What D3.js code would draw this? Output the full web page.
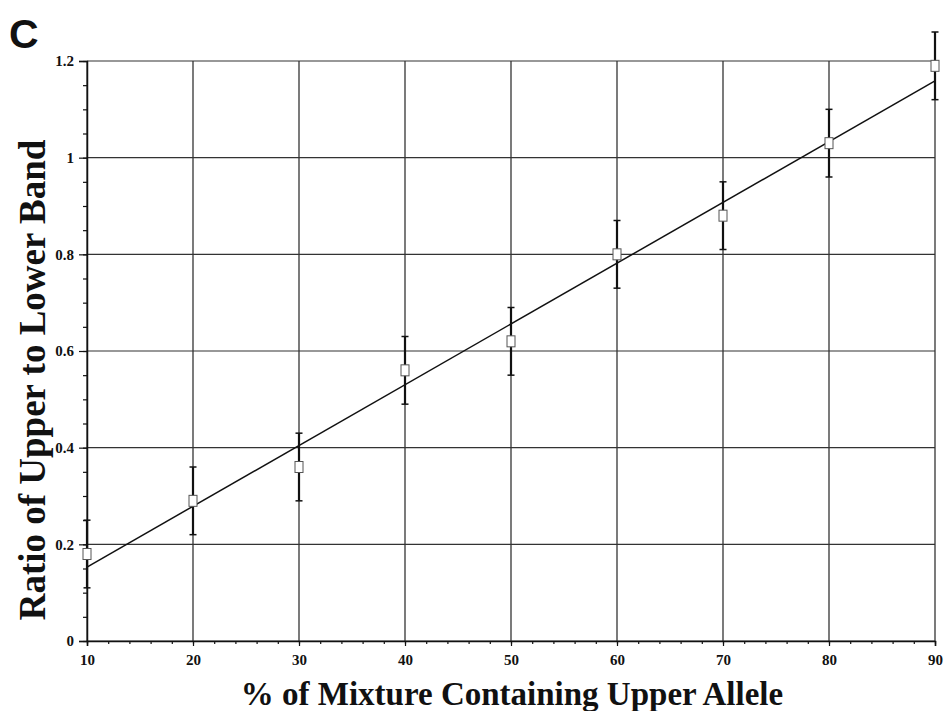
<!DOCTYPE html>
<html><head><meta charset="utf-8">
<script src="https://cdn.jsdelivr.net/npm/d3@7/dist/d3.min.js"></script>
<style>body{margin:0;background:#fff}svg{display:block}</style>
</head><body>
<svg id="c" width="945" height="711"></svg>
<script>
const xValues = [10, 20, 30, 40, 50, 60, 70, 80, 90];
const ratioValues = [0.18, 0.29, 0.36, 0.56, 0.62, 0.80, 0.88, 1.03, 1.19];
const errorValues = [0.07, 0.07, 0.07, 0.07, 0.07, 0.07, 0.07, 0.07, 0.07];
const fitX = [10, 90];
const fitY = [0.153, 1.159];
const xTicks = [10, 20, 30, 40, 50, 60, 70, 80, 90];
const yTicks = [0, 0.2, 0.4, 0.6, 0.8, 1, 1.2];
const panelLabel = "C";
const xTitle = "% of Mixture Containing Upper Allele";
const yTitle = "Ratio of Upper to Lower Band";

const svg = d3.select("#c");
const L = 87, R = 935, T = 61, B = 641;
const x = d3.scaleLinear().domain([10, 90]).range([L, R]);
const y = d3.scaleLinear().domain([0, 1.2]).range([B, T]);
const serif = "'Liberation Serif','Times New Roman',serif";

// grid
const g = svg.append("g");
g.selectAll(".vg").data(xTicks).join("line")
  .attr("x1", d => x(d)).attr("x2", d => x(d)).attr("y1", T).attr("y2", B)
  .attr("stroke", "#222").attr("stroke-width", 1.2);
g.selectAll(".hg").data(yTicks).join("line")
  .attr("x1", L).attr("x2", R).attr("y1", d => y(d)).attr("y2", d => y(d))
  .attr("stroke", "#333").attr("stroke-width", 1.2);

// axes
const xAxis = d3.axisBottom(x).tickValues(xTicks).tickSize(5).tickFormat(d3.format("d"));
const xMinor = d3.axisBottom(x).tickValues(d3.range(10, 91, 2)).tickSize(3).tickFormat("");
const yAxis = d3.axisLeft(y).tickValues(yTicks).tickSize(8).tickFormat(d => d === 0 ? "0" : d3.format("")(d));
const yMinor = d3.axisLeft(y).tickValues(d3.range(0, 1.201, 0.05)).tickSize(4).tickFormat("");

function style(sel) {
  sel.attr("font-size", 15).attr("font-family", serif);
  sel.selectAll("path").attr("stroke", "#111").attr("stroke-width", 1.5);
  sel.selectAll("line").attr("stroke", "#111").attr("stroke-width", 1.2);
  sel.selectAll("text").attr("font-family", serif).attr("font-weight", "bold")
    .attr("font-size", 15).attr("fill", "#111");
}
svg.append("g").attr("transform", `translate(0,${B})`).call(xMinor).call(style).select(".domain").remove();
const xa = svg.append("g").attr("transform", `translate(0,${B})`).call(xAxis).call(style);
xa.selectAll("text").attr("y", 13).attr("dy", "0.71em");
svg.append("g").attr("transform", `translate(${L},0)`).call(yMinor).call(style).select(".domain").remove();
const ya = svg.append("g").attr("transform", `translate(${L},0)`).call(yAxis).call(style);
ya.selectAll("text").attr("x", -13).attr("dy", "0.32em");

// fit line
svg.append("line")
  .attr("x1", x(fitX[0])).attr("y1", y(fitY[0]))
  .attr("x2", x(fitX[1])).attr("y2", y(fitY[1]))
  .attr("stroke", "#111").attr("stroke-width", 1.5);

// error bars
const pts = xValues.map((v, i) => ({x: v, y: ratioValues[i], e: errorValues[i]}));
const eb = svg.append("g");
eb.selectAll(".eb").data(pts).join("line")
  .attr("x1", d => x(d.x)).attr("x2", d => x(d.x))
  .attr("y1", d => y(d.y - d.e)).attr("y2", d => y(d.y + d.e))
  .attr("stroke", "#111").attr("stroke-width", 2.2);
eb.selectAll(".cu").data(pts).join("line")
  .attr("x1", d => x(d.x) - 3.5).attr("x2", d => x(d.x) + 3.5)
  .attr("y1", d => y(d.y + d.e)).attr("y2", d => y(d.y + d.e))
  .attr("stroke", "#111").attr("stroke-width", 1.5);
eb.selectAll(".cl").data(pts).join("line")
  .attr("x1", d => x(d.x) - 3.5).attr("x2", d => x(d.x) + 3.5)
  .attr("y1", d => y(d.y - d.e)).attr("y2", d => y(d.y - d.e))
  .attr("stroke", "#111").attr("stroke-width", 1.5);

// markers
svg.append("g").selectAll("rect").data(pts).join("rect")
  .attr("x", d => x(d.x) - 4).attr("y", d => y(d.y) - 5.5)
  .attr("width", 8).attr("height", 11)
  .attr("fill", "#fff").attr("stroke", "#555").attr("stroke-width", 1);

// titles
svg.append("text").attr("x", 9).attr("y", 48).text(panelLabel)
  .attr("font-family", "'Liberation Sans',Arial,sans-serif").attr("font-weight", "bold")
  .attr("font-size", 41).attr("fill", "#111");
svg.append("text").attr("x", 512).attr("y", 705).attr("text-anchor", "middle").text(xTitle)
  .attr("font-family", serif).attr("font-weight", "bold").attr("font-size", 33).attr("fill", "#111");
svg.append("text").attr("transform", "translate(45,380) rotate(-90)").attr("text-anchor", "middle").text(yTitle)
  .attr("font-family", serif).attr("font-weight", "bold").attr("font-size", 37).attr("fill", "#111");
</script>
</body></html>
